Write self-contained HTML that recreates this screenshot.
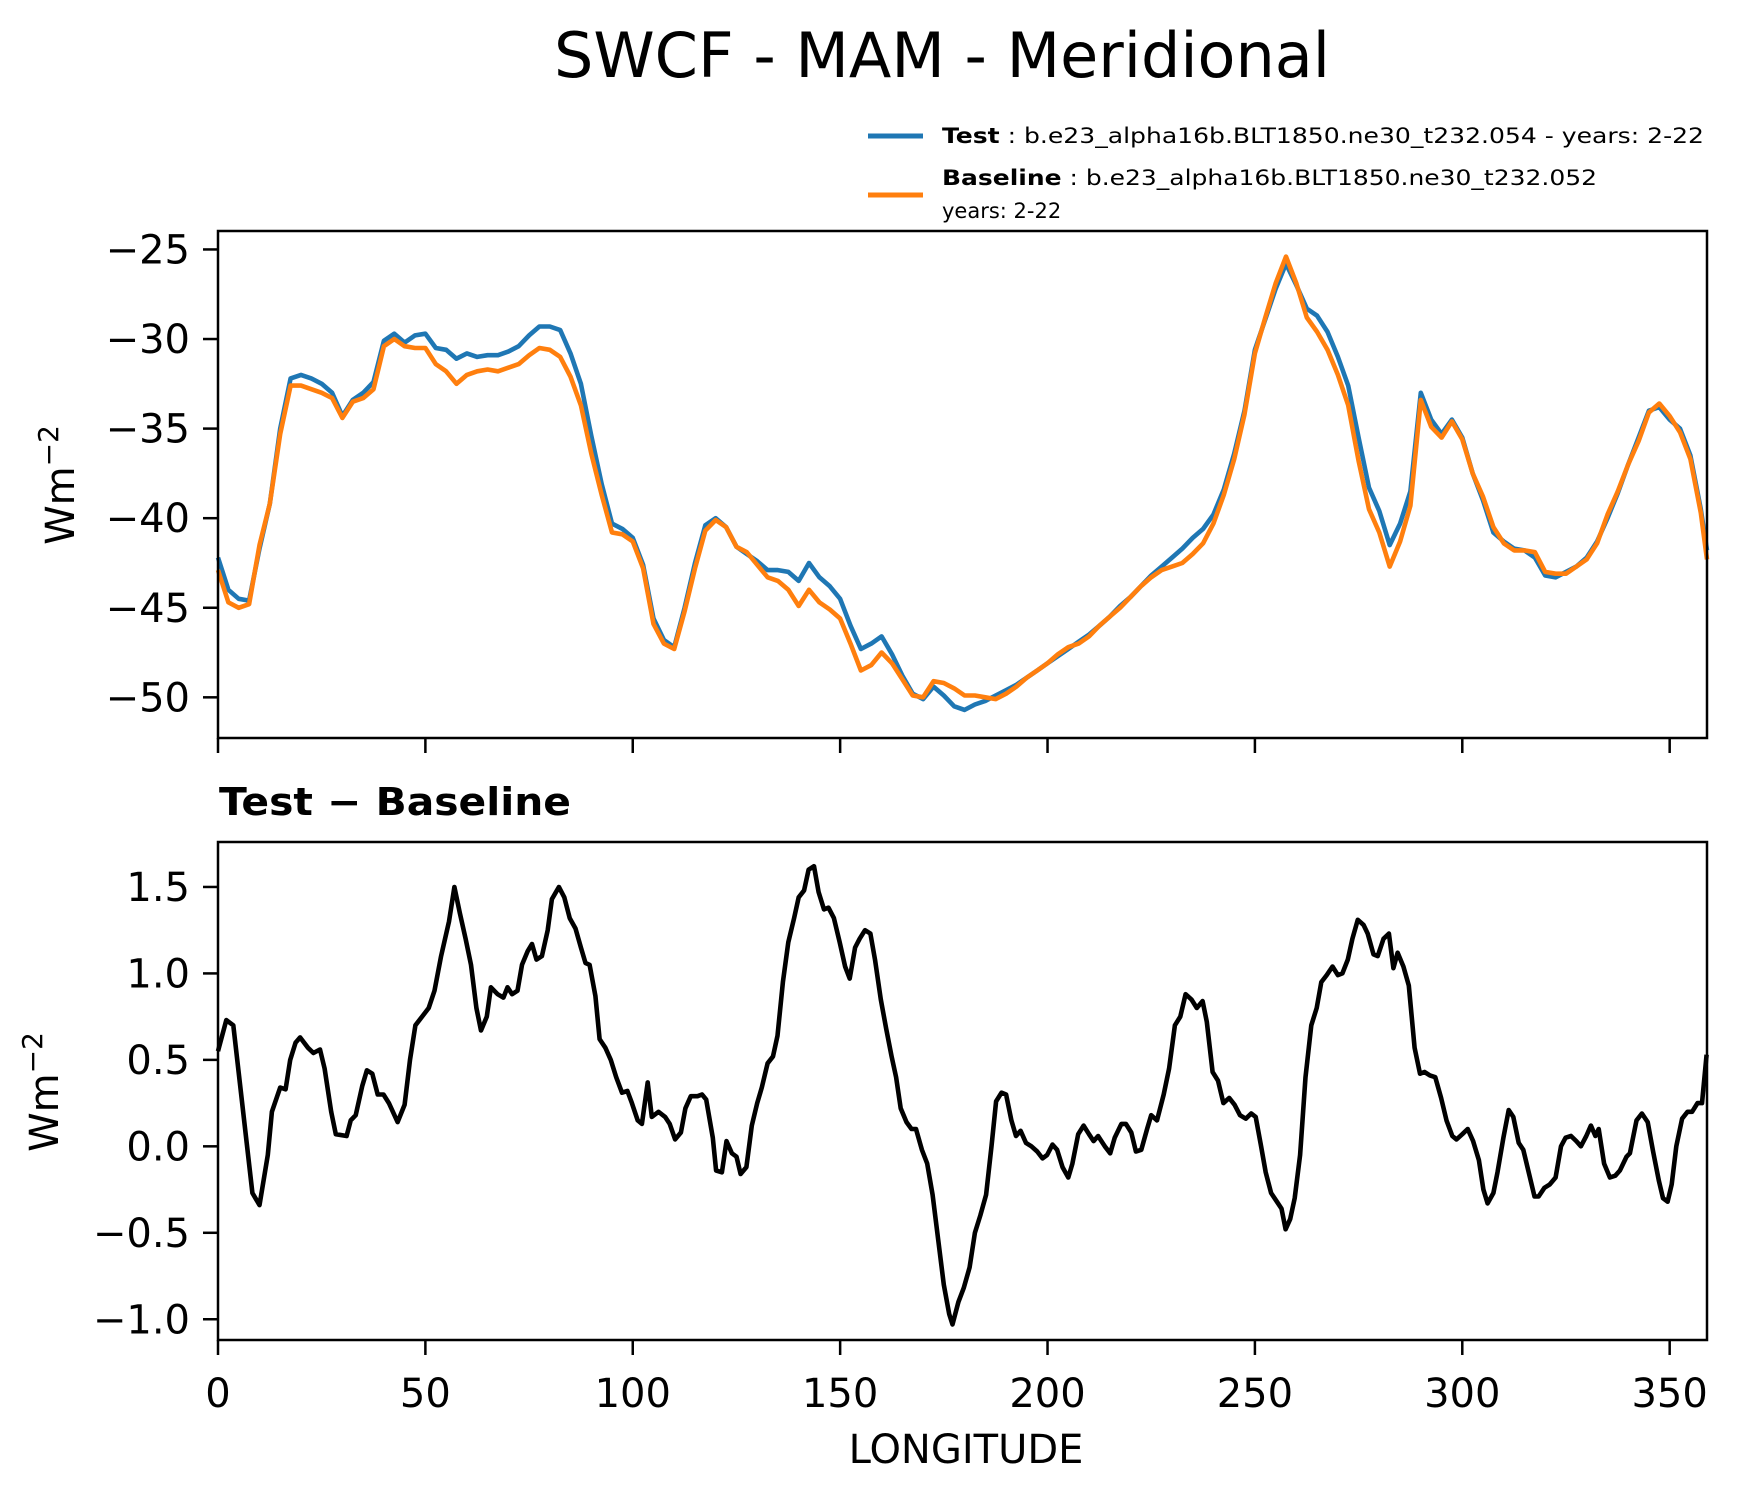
<!DOCTYPE html>
<html><head><meta charset="utf-8"><style>
html,body{margin:0;padding:0;background:#fff;}
svg text{font-family:"DejaVu Sans","Liberation Sans",sans-serif;}
</style></head><body>
<svg id="chart" width="1739" height="1496" viewBox="0 0 1739 1496" xmlns="http://www.w3.org/2000/svg">
<rect width="1739" height="1496" fill="#fff"/>
<text x="942" y="77" font-size="62" text-anchor="middle">SWCF - MAM - Meridional</text>
<g>
<line x1="868" y1="136" x2="923" y2="136" stroke="#1f77b4" stroke-width="5"/>
<text x="942" y="143" font-size="21" textLength="762" lengthAdjust="spacingAndGlyphs"><tspan font-weight="bold">Test</tspan> : b.e23_alpha16b.BLT1850.ne30_t232.054 - years: 2-22</text>
<line x1="868" y1="195" x2="923" y2="195" stroke="#ff7f0e" stroke-width="5"/>
<text x="942" y="185" font-size="21" textLength="655" lengthAdjust="spacingAndGlyphs"><tspan font-weight="bold">Baseline</tspan> : b.e23_alpha16b.BLT1850.ne30_t232.052</text>
<text x="942" y="218" font-size="21">years: 2-22</text>
</g>
<text x="219" y="815" font-size="38" font-weight="bold" textLength="352" lengthAdjust="spacingAndGlyphs">Test − Baseline</text>
<text transform="translate(74,485) rotate(-90)" font-size="40" text-anchor="middle">Wm<tspan dy="-16" font-size="28">−2</tspan></text>
<text transform="translate(58,1092) rotate(-90)" font-size="40" text-anchor="middle">Wm<tspan dy="-16" font-size="28">−2</tspan></text>
<text x="966" y="1463" font-size="40" text-anchor="middle">LONGITUDE</text>
<g id="top"></g>
<g id="bot"></g>
</svg>
<script>
const tLon = [0,2.5,5,7.5,10,12.5,15,17.5,20,22.5,25,27.5,30,32.5,35,37.5,40,42.5,45,47.5,50,52.5,55,57.5,60,62.5,65,67.5,70,72.5,75,77.5,80,82.5,85,87.5,90,92.5,95,97.5,100,102.5,105,107.5,110,112.5,115,117.5,120,122.5,125,127.5,130,132.5,135,137.5,140,142.5,145,147.5,150,152.5,155,157.5,160,162.5,165,167.5,170,172.5,175,177.5,180,182.5,185,187.5,190,192.5,195,197.5,200,202.5,205,207.5,210,212.5,215,217.5,220,222.5,225,227.5,230,232.5,235,237.5,240,242.5,245,247.5,250,252.5,255,257.5,260,262.5,265,267.5,270,272.5,275,277.5,280,282.5,285,287.5,290,292.5,295,297.5,300,302.5,305,307.5,310,312.5,315,317.5,320,322.5,325,327.5,330,332.5,335,337.5,340,342.5,345,347.5,350,352.5,355,357.5,359];
const testVals = [-42.2,-44.0,-44.5,-44.6,-41.7,-39.2,-35.0,-32.2,-32.0,-32.2,-32.5,-33.0,-34.3,-33.4,-33.0,-32.4,-30.1,-29.7,-30.2,-29.8,-29.7,-30.5,-30.6,-31.1,-30.8,-31.0,-30.9,-30.9,-30.7,-30.4,-29.8,-29.3,-29.3,-29.5,-30.8,-32.5,-35.4,-38.1,-40.3,-40.6,-41.1,-42.6,-45.6,-46.8,-47.2,-45.0,-42.5,-40.4,-40.0,-40.5,-41.6,-42.0,-42.4,-42.9,-42.9,-43.0,-43.5,-42.5,-43.3,-43.8,-44.5,-46.0,-47.3,-47.0,-46.6,-47.6,-48.8,-49.8,-50.1,-49.4,-49.9,-50.5,-50.7,-50.4,-50.2,-49.9,-49.6,-49.3,-48.9,-48.5,-48.1,-47.7,-47.3,-46.9,-46.5,-46.0,-45.5,-44.9,-44.4,-43.8,-43.2,-42.7,-42.2,-41.7,-41.1,-40.6,-39.8,-38.4,-36.4,-34.0,-30.6,-28.9,-27.2,-25.8,-27.0,-28.3,-28.7,-29.6,-31.0,-32.6,-35.5,-38.3,-39.6,-41.5,-40.3,-38.5,-33.0,-34.5,-35.3,-34.5,-35.5,-37.5,-39.0,-40.8,-41.3,-41.7,-41.8,-42.2,-43.2,-43.3,-43.0,-42.7,-42.2,-41.3,-40.0,-38.6,-37.0,-35.5,-34.0,-33.8,-34.5,-35.0,-36.5,-39.5,-41.8];
const baseVals = [-42.9,-44.7,-45.0,-44.8,-41.5,-39.2,-35.3,-32.6,-32.6,-32.8,-33.0,-33.3,-34.4,-33.5,-33.3,-32.8,-30.4,-30.0,-30.4,-30.5,-30.5,-31.4,-31.8,-32.5,-32.0,-31.8,-31.7,-31.8,-31.6,-31.4,-30.9,-30.5,-30.6,-31.0,-32.1,-33.7,-36.4,-38.7,-40.8,-40.9,-41.3,-42.8,-45.9,-47.0,-47.3,-45.2,-42.8,-40.7,-40.1,-40.5,-41.6,-41.9,-42.6,-43.3,-43.5,-44.0,-44.9,-44.0,-44.7,-45.1,-45.6,-47.0,-48.5,-48.2,-47.5,-48.1,-49.0,-49.9,-50.0,-49.1,-49.2,-49.5,-49.9,-49.9,-50.0,-50.1,-49.8,-49.4,-48.9,-48.5,-48.1,-47.6,-47.2,-47.0,-46.6,-46.0,-45.5,-45.0,-44.4,-43.8,-43.3,-42.9,-42.7,-42.5,-42.0,-41.4,-40.3,-38.7,-36.7,-34.2,-30.8,-28.8,-26.9,-25.4,-26.9,-28.8,-29.6,-30.6,-32.0,-33.7,-36.8,-39.5,-40.8,-42.7,-41.3,-39.3,-33.4,-34.9,-35.5,-34.6,-35.6,-37.5,-38.8,-40.5,-41.4,-41.8,-41.8,-41.9,-43.0,-43.1,-43.1,-42.7,-42.3,-41.4,-39.8,-38.5,-37.0,-35.7,-34.1,-33.6,-34.3,-35.2,-36.7,-39.7,-42.3];
const dLon = [0,2,3.7,8.3,10,12,13,15,16.3,17.4,18.7,19.8,21.7,23,24.6,25.7,27.3,28.4,31,32,33.2,34.8,35.9,37.2,38.5,39.9,41.2,43.3,45,46.3,47.6,49.2,50.8,52.2,53.8,55.7,57,58.3,59.7,61,62.3,63.4,64.8,65.8,67.4,68.8,69.8,70.9,72.2,73.3,74.7,75.7,76.8,78.1,79.5,80.5,82.2,83.5,84.8,86.2,87.5,88.6,89.6,91,92,93.4,94.7,96,97.4,98.7,99.8,101.2,102.2,103.6,104.6,106.2,107.8,108.9,110.2,111.6,112.7,114,115.6,116.7,117.7,119.3,120.1,121.5,122.6,123.9,125,126,127.4,128.7,130,131.1,132.5,133.8,134.9,136.2,137.5,138.9,140,141.3,142.4,143.7,144.8,146.1,147.2,148.5,149.9,151.2,152.3,153.6,154.7,156,157.3,158.4,159.8,161.1,162.4,163.5,164.6,166,167.2,168.3,169.7,171,172.3,173.7,175,176.3,177.1,178.5,179.8,181.2,182.5,183.8,185.2,186.5,187.6,188.9,190,191.3,192.4,193.5,194.8,196.1,197.5,198.8,199.9,201.2,202.3,203.6,205,206,207.4,208.7,210,211.1,212.2,213.8,215.1,216.2,217.8,218.9,220.2,221.3,222.6,224,225,226.4,228,229.3,230.7,232,233.3,234.7,236,237.4,238.4,239.8,241.1,242.4,243.8,245.1,246.4,247.8,249.1,250.2,251.5,252.6,253.9,255.3,256.4,257.4,258.5,259.6,260.9,262.2,263.6,264.9,266,267.3,268.7,270,271.1,272.4,273.5,274.8,276.2,277.2,278.6,279.6,281,282.3,283.4,284.4,285.8,287.1,288.5,289.8,290.9,292.2,293.5,294.9,296.2,297.6,298.6,300,301.3,302.6,304,305.1,306.1,307.5,308.5,309.9,311.2,312.3,313.6,314.7,316,317.4,318.4,319.8,321.1,322.5,323.8,324.9,326.2,327.5,328.6,329.9,331,332.1,332.9,334.2,335.6,336.9,338,339.6,340.4,342,343.3,344.7,346,347.4,348.4,349.5,350.5,351.6,353,354.3,355.4,356.7,357.8,358.9];
const dVals = [0.55,0.73,0.7,-0.27,-0.34,-0.05,0.2,0.34,0.33,0.5,0.6,0.63,0.57,0.54,0.56,0.45,0.2,0.07,0.06,0.15,0.18,0.35,0.44,0.42,0.3,0.3,0.25,0.14,0.24,0.5,0.7,0.75,0.8,0.9,1.1,1.3,1.5,1.35,1.2,1.05,0.8,0.67,0.75,0.92,0.88,0.86,0.92,0.88,0.9,1.05,1.13,1.17,1.08,1.1,1.25,1.43,1.5,1.44,1.32,1.26,1.15,1.06,1.05,0.87,0.62,0.57,0.5,0.4,0.31,0.32,0.25,0.15,0.13,0.37,0.17,0.2,0.17,0.13,0.04,0.08,0.22,0.29,0.29,0.3,0.27,0.05,-0.14,-0.15,0.03,-0.04,-0.06,-0.16,-0.12,0.12,0.25,0.34,0.48,0.52,0.64,0.95,1.18,1.32,1.44,1.48,1.6,1.62,1.47,1.37,1.38,1.32,1.18,1.04,0.97,1.15,1.2,1.25,1.23,1.08,0.85,0.68,0.52,0.4,0.22,0.14,0.1,0.1,-0.02,-0.1,-0.28,-0.55,-0.8,-0.97,-1.03,-0.9,-0.82,-0.7,-0.5,-0.4,-0.28,0.0,0.26,0.31,0.3,0.15,0.06,0.09,0.02,0.0,-0.03,-0.07,-0.05,0.01,-0.02,-0.12,-0.18,-0.1,0.07,0.12,0.07,0.03,0.06,0.0,-0.04,0.05,0.13,0.13,0.08,-0.03,-0.02,0.1,0.18,0.15,0.3,0.45,0.7,0.75,0.88,0.85,0.8,0.84,0.72,0.43,0.38,0.25,0.28,0.24,0.18,0.16,0.19,0.17,0.0,-0.15,-0.27,-0.32,-0.36,-0.48,-0.42,-0.3,-0.05,0.4,0.7,0.8,0.95,0.99,1.04,0.99,1.0,1.08,1.2,1.31,1.28,1.23,1.11,1.1,1.2,1.23,1.03,1.12,1.04,0.93,0.57,0.42,0.43,0.41,0.4,0.28,0.15,0.06,0.04,0.07,0.1,0.03,-0.08,-0.25,-0.33,-0.27,-0.15,0.05,0.21,0.17,0.02,-0.02,-0.15,-0.29,-0.29,-0.24,-0.22,-0.18,0.0,0.05,0.06,0.03,0.0,0.06,0.12,0.06,0.1,-0.1,-0.18,-0.17,-0.14,-0.06,-0.04,0.15,0.19,0.14,-0.03,-0.2,-0.3,-0.32,-0.22,0.0,0.16,0.2,0.2,0.25,0.25,0.53];
const xTicks = [0,50,100,150,200,250,300,350];
const topTicks = [-25,-30,-35,-40,-45,-50];
const topTickLabels = ["−25","−30","−35","−40","−45","−50"];
const botTicks = [1.5,1.0,0.5,0.0,-0.5,-1.0];
const botTickLabels = ["1.5","1.0","0.5","0.0","−0.5","−1.0"];

const NS='http://www.w3.org/2000/svg';
const L=218, R=1707;
const X=v=>L+(v-0)*(R-L)/(359-0);
function mk(tag,attrs,parent){const e=document.createElementNS(NS,tag);for(const k in attrs)e.setAttribute(k,attrs[k]);parent.appendChild(e);return e;}
function panel(g,top,bot,ymin,ymax,ticks,labels,series,showXLabels,nm){
  const Y=v=>bot-(v-ymin)*(bot-top)/(ymax-ymin);
  series.forEach(s=>{
    const d=s.x.map((x,i)=>(i?'L':'M')+X(x).toFixed(1)+','+Y(s.y[i]).toFixed(1)).join('');
    const p=mk('path',{d:d,fill:'none',stroke:s.c,'stroke-width':4.6,'stroke-linejoin':'round'},g);
    
    
  });
  const fr=mk('rect',{x:L,y:top,width:R-L,height:bot-top,fill:'none',stroke:'#000','stroke-width':2.5},g);
  
  
  ticks.forEach((t,i)=>{
    const y=Y(t);
    const tl=mk('line',{x1:L-15,x2:L,y1:y,y2:y,stroke:'#000','stroke-width':2.5},g);
    
    
    const tx=mk('text',{x:L-28,y:y+14,'font-size':40,'text-anchor':'end'},g);
    tx.textContent=labels[i];
    
    
  });
  xTicks.forEach(t=>{
    const x=X(t);
    const tl=mk('line',{x1:x,x2:x,y1:bot,y2:bot+15,stroke:'#000','stroke-width':2.5},g);
    
    
    if(showXLabels){
      const tx=mk('text',{x:x,y:bot+67,'font-size':40,'text-anchor':'middle'},g);
      tx.textContent=String(t);
      
      
    }
  });
}
panel(document.getElementById('top'),231,738,-52.27,-23.97,topTicks,topTickLabels,
  [{x:tLon,y:testVals,c:'#1f77b4',n:'test-line'},{x:tLon,y:baseVals,c:'#ff7f0e',n:'baseline-line'}],false,'top');
panel(document.getElementById('bot'),842,1340,-1.12,1.76,botTicks,botTickLabels,
  [{x:dLon,y:dVals,c:'#000',n:'difference-line'}],true,'diff');
</script>
</body></html>
